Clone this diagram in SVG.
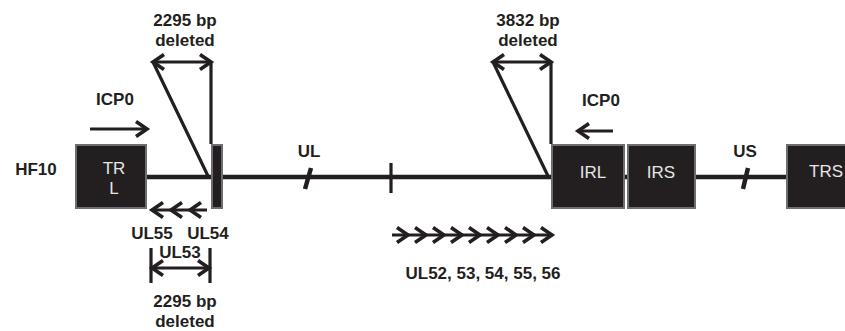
<svg xmlns="http://www.w3.org/2000/svg" xmlns:xlink="http://www.w3.org/1999/xlink" width="845" height="331" viewBox="0 0 845 331">
<style>
.lbl{font-family:"Liberation Sans",Arial,sans-serif;font-weight:bold;font-size:17px;fill:#231f20;text-anchor:middle}
.bt{font-family:"Liberation Sans",Arial,sans-serif;font-size:17px;fill:#e6e6e6;text-anchor:middle}
.box{fill:#231f20;stroke:#6d6e71;stroke-width:2}
.ln{stroke:#231f20;fill:none;stroke-width:3.2}
.main{stroke:#231f20;stroke-width:4.5;fill:none}
.ch{stroke:#231f20;fill:none;stroke-width:3.6;stroke-linejoin:miter;stroke-linecap:butt}
</style>
<defs>
<path id="chr" class="ch" d="M-11,-7.5 L0,0 L-11,7.5"/>
<path id="chl" class="ch" d="M11,-7.5 L0,0 L11,7.5"/>
</defs>
<rect width="845" height="331" fill="#fff"/>
<g id="connectors">
<path class="main" d="M147,177 H211 M223,177 H551 M625,177 H627 M696,177 H786"/>
<path class="main" d="M311,168 L305,189 M748,168 L743,189"/>
<path class="ln" d="M391,163 V193"/>
<path class="ln" d="M153,62 L208,176 M211,62 V144 M493,62 L548,176 M551,62 V144"/>
<path class="ln" d="M154,62 H210 M494,62 H550"/>
<use xlink:href="#chl" x="153" y="62"/><use xlink:href="#chr" x="211" y="62"/>
<use xlink:href="#chl" x="493" y="62"/><use xlink:href="#chr" x="551" y="62"/>
<path class="ln" d="M90,129 H146"/><use xlink:href="#chr" x="147" y="129"/>
<path class="ln" d="M579,131 H613"/><use xlink:href="#chl" x="578" y="131"/>
<path class="ln" d="M153,210 H207"/>
<use xlink:href="#chl" x="152" y="210"/><use xlink:href="#chl" x="171" y="210"/><use xlink:href="#chl" x="190" y="210"/>
<path class="ln" d="M392,235 H551"/>
<use xlink:href="#chr" x="408" y="235"/><use xlink:href="#chr" x="426" y="235"/><use xlink:href="#chr" x="444" y="235"/><use xlink:href="#chr" x="462" y="235"/><use xlink:href="#chr" x="480" y="235"/><use xlink:href="#chr" x="498" y="235"/><use xlink:href="#chr" x="516" y="235"/><use xlink:href="#chr" x="534" y="235"/><use xlink:href="#chr" x="552" y="235"/>
<path class="ln" d="M151,248 V283 M210,248 V283 M152,268 H209"/>
<use xlink:href="#chl" x="152" y="268"/><use xlink:href="#chr" x="209" y="268"/>
</g>
<g id="TRL"><rect class="box" x="76" y="145" width="70" height="63"/><text class="bt" x="114" y="174">TR</text><text class="bt" x="114" y="194">L</text></g>
<g id="UL54box"><rect class="box" x="212" y="145" width="10" height="63"/></g>
<g id="IRL"><rect class="box" x="552" y="145" width="72" height="63"/><text class="bt" x="593" y="178">IRL</text></g>
<g id="IRS"><rect class="box" x="628" y="145" width="67" height="63"/><text class="bt" x="661" y="178">IRS</text></g>
<g id="TRS"><rect class="box" x="787" y="145" width="70" height="63"/><text class="bt" x="826" y="177">TRS</text></g>
<g id="labels">
<text class="lbl" x="36" y="175">HF10</text>
<text class="lbl" x="185" y="26">2295 bp</text>
<text class="lbl" x="185" y="46">deleted</text>
<text class="lbl" x="528" y="26">3832 bp</text>
<text class="lbl" x="528" y="46">deleted</text>
<text class="lbl" x="115" y="105">ICP0</text>
<text class="lbl" x="601" y="106">ICP0</text>
<text class="lbl" x="309" y="157">UL</text>
<text class="lbl" x="745" y="157">US</text>
<text class="lbl" x="152" y="239">UL55</text>
<text class="lbl" x="208" y="239">UL54</text>
<text class="lbl" x="180" y="258">UL53</text>
<text class="lbl" x="483" y="279">UL52, 53, 54, 55, 56</text>
<text class="lbl" x="185" y="307">2295 bp</text>
<text class="lbl" x="185" y="327">deleted</text>
</g>
</svg>
